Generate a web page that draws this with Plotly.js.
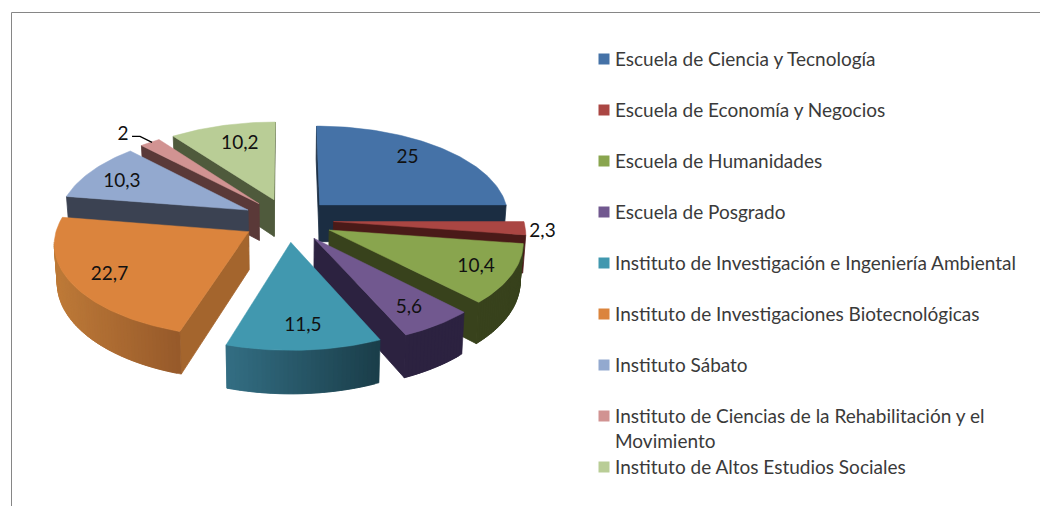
<!DOCTYPE html>
<html>
<head>
<meta charset="utf-8">
<script src="https://cdn.plot.ly/plotly-3.0.1.min.js"></script>
<style>html,body{margin:0;padding:0;background:#fff}#chart{width:1040px;height:506px}</style>
</head>
<body>
<div id="chart"></div>
<script>
// ---- data ----
const categories = [
  "Escuela de Ciencia y Tecnología",
  "Escuela de Economía y Negocios",
  "Escuela de Humanidades",
  "Escuela de Posgrado",
  "Instituto de Investigación e Ingeniería Ambiental",
  "Instituto de Investigaciones Biotecnológicas",
  "Instituto Sábato",
  "Instituto de Ciencias de la Rehabilitación y el<br>Movimiento",
  "Instituto de Altos Estudios Sociales"
];
const values = [25, 2.3, 10.4, 5.6, 11.5, 22.7, 10.3, 2, 10.2];
const valueLabels = ["25", "2,3", "10,4", "5,6", "11,5", "22,7", "10,3", "2", "10,2"];

// ---- styles ----
const topColors  = ["#4572A7","#AA4643","#89A54E","#71588F","#4198AF","#DB843D","#93A9CF","#D19392","#B9CD96"];
const cutColors  = ["#1B2D42","#4A1A18","#38421C","#2C2240","#2F6578","#A4652D","#3B4252","#5A3938","#4F5A3C"];
const arcFrom    = ["#1B2D42","#4A1A18","#38421C","#2C2240","#336E83","#BE7A38","#3B4252","#5A3938","#4F5A3C"];
const arcTo      = ["#1B2D42","#4A1A18","#38421C","#2C2240","#1A3D49","#96592A","#3B4252","#5A3938","#4F5A3C"];
const paintOrder = [8,0,7,6,1,2,5,3,4];
// label offsets, in pixels, from the point 0.7 radius along each slice's bisector
const labelDx = [2, 75, 21, 11, 3, -18, -15, -58, 3];
const labelDy = [-6, 6, 7, 11, 11, 8, 0, -25, -2];

// ---- projection of the tilted, exploded pie ----
const W = 1040, H = 506;
const CX = 288, CY = 220, RX = 190, RY = 90.7, PERSP = 0.111, EXPLODE = 0.24, DEPTH = 37.5, BOTTOM_SHRINK = 0.987;
function project(X, Y, low) {
  const w = 1 + PERSP * Y;
  let sx = CX + RX * X / w;
  let sy = CY - RY * Y / w;
  if (low) { sx = CX + (sx - CX) * BOTTOM_SHRINK; sy += DEPTH / w; }
  return [sx, sy];
}
function hexMix(a, b, t) {
  const p = h => [1, 3, 5].map(i => parseInt(h.substr(i, 2), 16));
  const A = p(a), B = p(b);
  return "rgb(" + A.map((v, i) => Math.round(v + (B[i] - v) * t)).join(",") + ")";
}
const total = values.reduce((a, b) => a + b, 0);
const slices = [];
let acc = 0;
values.forEach((v, i) => {
  const a0 = acc / total * 2 * Math.PI;
  acc += v;
  const a1 = acc / total * 2 * Math.PI;
  const mid = (a0 + a1) / 2;
  const ox = EXPLODE * Math.sin(mid), oy = EXPLODE * Math.cos(mid);
  const n = Math.max(3, Math.ceil((a1 - a0) / (1.2 * Math.PI / 180)));
  const plane = [[ox, oy]];
  for (let k = 0; k <= n; k++) {
    const a = a0 + (a1 - a0) * k / n;
    plane.push([ox + Math.sin(a), oy + Math.cos(a)]);
  }
  slices.push({ i, mid, ox, oy, plane });
});

const traces = [];
function poly(pts, color, lw) {
  traces.push({
    type: "scatter", mode: "lines", x: pts.map(p => p[0]).concat(pts[0][0]), y: pts.map(p => p[1]).concat(pts[0][1]),
    fill: "toself", fillcolor: color, line: { color: color, width: lw }, hoverinfo: "skip", showlegend: false
  });
}
paintOrder.forEach(idx => {
  const s = slices[idx];
  const top = s.plane.map(p => project(p[0], p[1], false));
  const low = s.plane.map(p => project(p[0], p[1], true));
  const gx = top.reduce((a, p) => a + p[0], 0) / top.length;
  const gy = top.reduce((a, p) => a + p[1], 0) / top.length;
  const N = top.length;
  const arcXs = top.slice(1).map(p => p[0]);
  const minX = Math.min(...arcXs), maxX = Math.max(...arcXs);
  for (let e = 0; e < N; e++) {
    const a = top[e], b = top[(e + 1) % N];
    const dx = b[0] - a[0], dy = b[1] - a[1];
    const inner = dx * (gy - a[1]) - dy * (gx - a[0]); // cross(edge, centroid)
    if (dx * inner >= 0) continue;                     // cross(edge, down) must oppose it
    const isCut = (e === 0 || e === N - 1);
    if (isCut) {
      poly([a, b, low[(e + 1) % N], low[e]], cutColors[idx], 0.8);
    } else {
      // each band runs one step past its end, so the next band overpaints the join
      const t = (((a[0] + b[0]) / 2) - minX) / Math.max(1, maxX - minX);
      const last = Math.min(e + 2, N - 1);
      const upper = [], lower = [];
      for (let k = e; k <= last; k++) { upper.push(top[k]); lower.unshift(low[k]); }
      poly(upper.concat(lower), hexMix(arcFrom[idx], arcTo[idx], t), 0.6);
    }
  }
  poly(top, topColors[idx], 0.5);
});

// value labels
const lx = [], ly = [];
slices.forEach(s => {
  const p = project(s.ox + 0.7 * Math.sin(s.mid), s.oy + 0.7 * Math.cos(s.mid), false);
  lx.push(p[0] + labelDx[s.i]);
  ly.push(p[1] + labelDy[s.i]);
});
// leader line of the small slice's outside label
const small = slices[7];
const edge = project(small.ox + Math.sin(small.mid), small.oy + Math.cos(small.mid), false);
traces.push({
  type: "scatter", mode: "lines", x: [edge[0] + 2, edge[0] - 10, edge[0] - 18], y: [edge[1], edge[1] - 6, edge[1] - 6],
  line: { color: "#000", width: 1.3 }, hoverinfo: "skip", showlegend: false
});
traces.push({
  type: "scatter", mode: "text", x: lx, y: ly, text: valueLabels, textposition: "middle center",
  textfont: { family: "Lato, sans-serif", size: 19, color: "#111" }, hoverinfo: "skip", showlegend: false
});

// legend
const LEG_X = 604, LEG_Y0 = 59, LEG_STEP = 51, LEG_TEXT_X = 615;
const legY = categories.map((c, i) => LEG_Y0 + LEG_STEP * i);
traces.push({
  type: "scatter", mode: "markers", x: categories.map(() => LEG_X), y: legY,
  marker: { symbol: "square", size: 11, color: topColors, line: { width: 0 } }, hoverinfo: "skip", showlegend: false
});
const annotations = categories.map((c, i) => ({
  x: LEG_TEXT_X, y: legY[i] + (c.includes("<br>") ? 12.5 : 0), xref: "x", yref: "y", xanchor: "left", yanchor: "middle", align: "left",
  text: c, showarrow: false, xshift: -2, yshift: 1, font: { family: "Lato, sans-serif", size: 19, color: "#3a3a3a" }
}));

const layout = {
  width: W, height: H, margin: { l: 0, r: 0, t: 0, b: 0 }, paper_bgcolor: "#fff", plot_bgcolor: "#fff", showlegend: false,
  xaxis: { range: [0, W], visible: false, fixedrange: true },
  yaxis: { range: [H, 0], visible: false, fixedrange: true },
  annotations,
  shapes: [{ type: "path", xref: "x", yref: "y", path: "M11.5 506 L11.5 12.5 L1040 12.5", line: { color: "#868686", width: 1 } }]
};
Plotly.newPlot("chart", traces, layout, { displayModeBar: false, staticPlot: true });
</script>
</body>
</html>
